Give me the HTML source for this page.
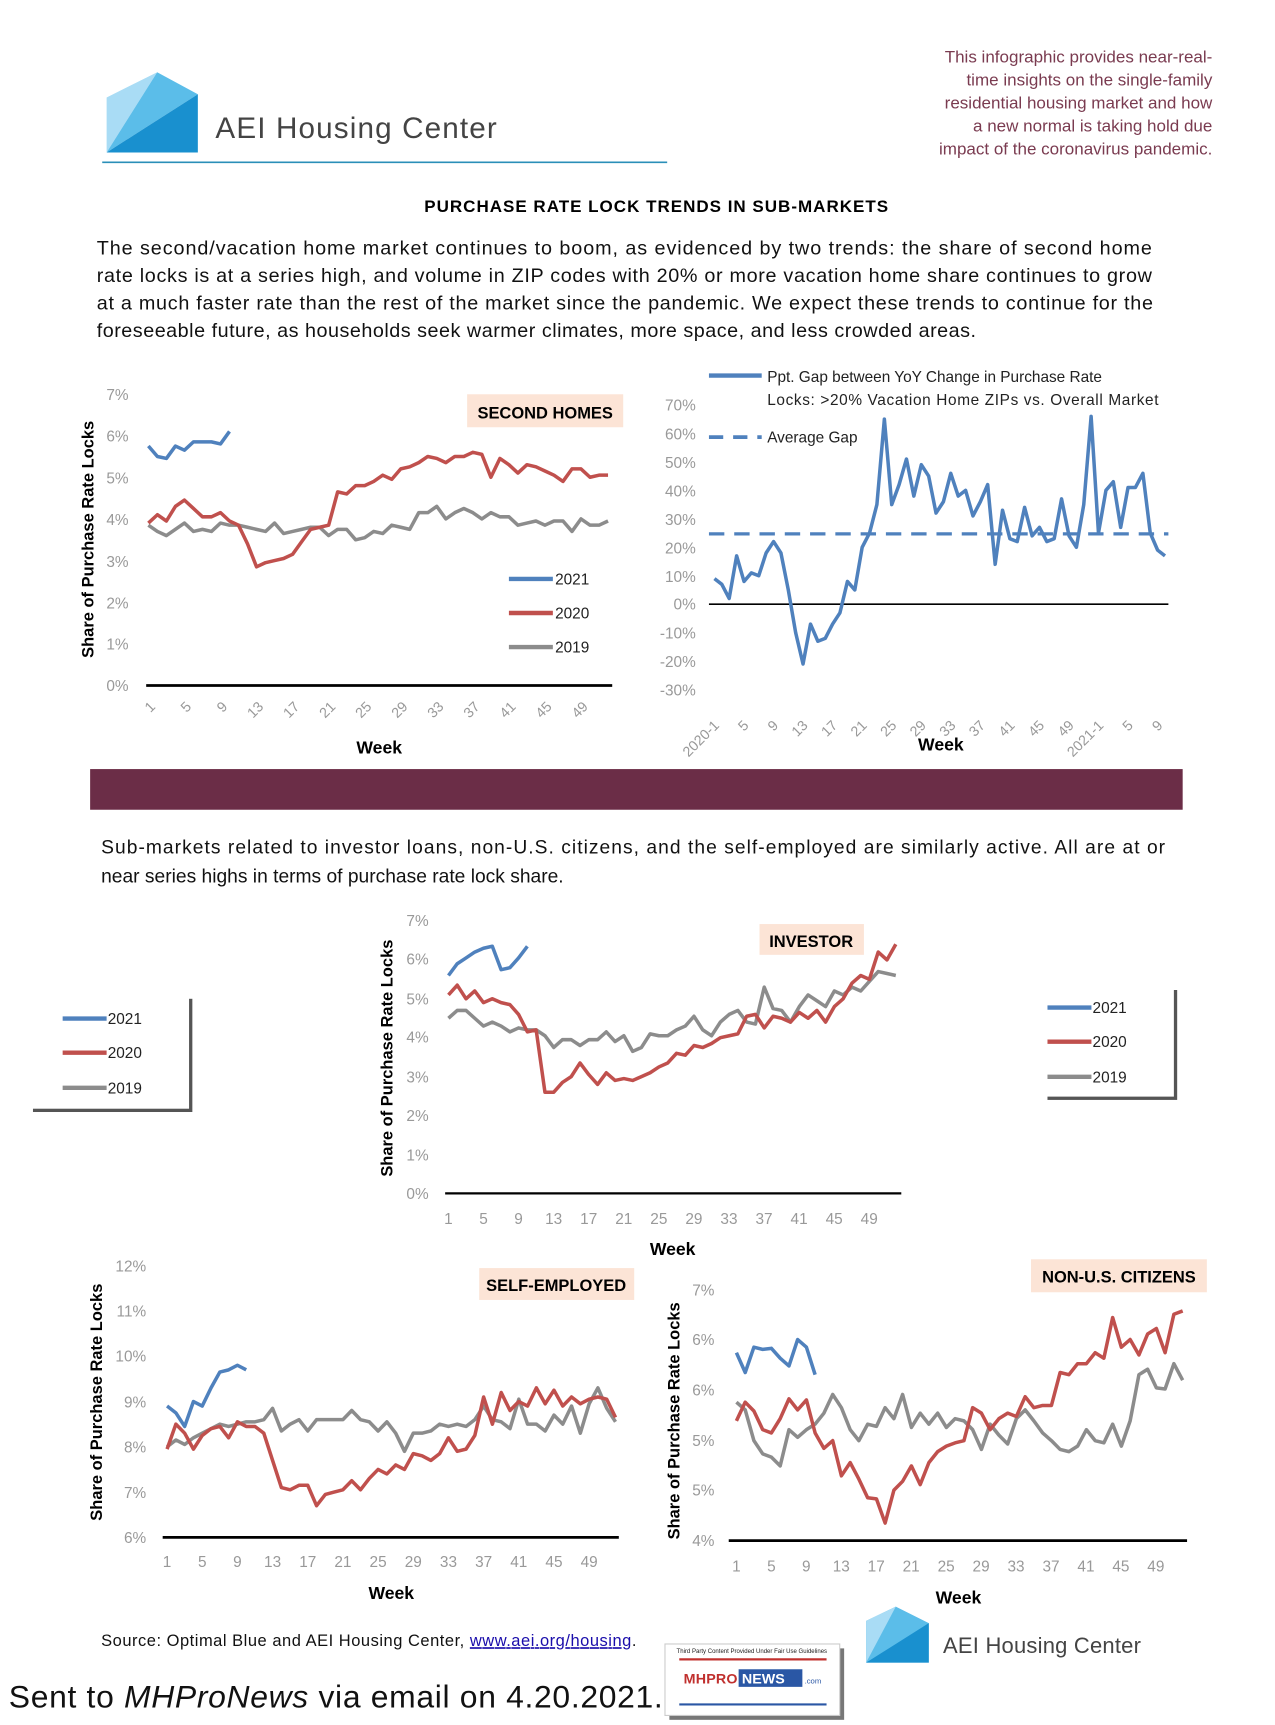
<!DOCTYPE html>
<html><head><meta charset="utf-8"><style>
html,body{margin:0;padding:0;background:#fff}
svg{display:block}
text{font-family:"Liberation Sans",sans-serif}
</style></head><body>
<svg id="s" width="1275" height="1725" viewBox="0 0 1160 1568" xmlns="http://www.w3.org/2000/svg">
<rect width="1160" height="1568" fill="#fff"/>
<polygon points="97,88 143,65 97,138" fill="#a9dcf5"/>
<polygon points="143,65 180,85 97,138" fill="#5bbde9"/>
<polygon points="97,138 180,85 180,138" fill="#1990cf"/>
<text x="196" y="125" font-size="27" fill="#444" textLength="256">AEI Housing Center</text>
<line x1="93" y1="147" x2="607" y2="147" stroke="#2a8fb8" stroke-width="1.5"/>
<g font-size="15.5" fill="#7a3b50" text-anchor="end">
<text x="1103" y="56">This infographic provides near-real-</text>
<text x="1103" y="77">time insights on the single-family</text>
<text x="1103" y="98">residential housing market and how</text>
<text x="1103" y="119">a new normal is taking hold due</text>
<text x="1103" y="140">impact of the coronavirus pandemic.</text>
</g>
<text x="386" y="192" font-size="15.5" font-weight="bold" textLength="422">PURCHASE RATE LOCK TRENDS IN SUB-MARKETS</text>
<g font-size="18" fill="#111">
<text x="88" y="231" textLength="960">The second/vacation home market continues to boom, as evidenced by two trends: the share of second home</text>
<text x="88" y="256" textLength="960">rate locks is at a series high, and volume in ZIP codes with 20% or more vacation home share continues to grow</text>
<text x="88" y="281" textLength="961">at a much faster rate than the rest of the market since the pandemic. We expect these trends to continue for the</text>
<text x="88" y="306" textLength="800">foreseeable future, as households seek warmer climates, more space, and less crowded areas.</text>
</g>

<g font-size="14" fill="#999" text-anchor="end">
<text x="117" y="363">7%</text><text x="117" y="401">6%</text><text x="117" y="439">5%</text><text x="117" y="477">4%</text><text x="117" y="515">3%</text><text x="117" y="553">2%</text><text x="117" y="590">1%</text><text x="117" y="628">0%</text>
</g>
<line x1="133" y1="623" x2="557" y2="623" stroke="#000" stroke-width="2.5"/>
<g id="t1" font-size="13" fill="#999"></g>
<text transform="translate(85,490) rotate(-90)" font-size="15" font-weight="bold" text-anchor="middle">Share of Purchase Rate Locks</text>
<text x="345" y="685" font-size="16" font-weight="bold" text-anchor="middle">Week</text>
<rect x="425" y="358" width="142" height="30" fill="#fce4d6"/>
<text x="496" y="380" font-size="15" font-weight="bold" text-anchor="middle">SECOND HOMES</text>
<g font-size="14" fill="#222">
<line x1="463" y1="526" x2="503" y2="526" stroke="#4f81bd" stroke-width="4"/><text x="505" y="531">2021</text>
<line x1="463" y1="557" x2="503" y2="557" stroke="#c0504d" stroke-width="4"/><text x="505" y="562">2020</text>
<line x1="463" y1="588" x2="503" y2="588" stroke="#8c8c8c" stroke-width="4"/><text x="505" y="593">2019</text>
</g>
<g id="c1"></g>

<g font-size="14" fill="#999" text-anchor="end">
<text x="633" y="373">70%</text><text x="633" y="399">60%</text><text x="633" y="425">50%</text><text x="633" y="451">40%</text><text x="633" y="477">30%</text><text x="633" y="503">20%</text><text x="633" y="529">10%</text><text x="633" y="554">0%</text><text x="633" y="580">-10%</text><text x="633" y="606">-20%</text><text x="633" y="632">-30%</text>
</g>
<line x1="645" y1="549" x2="1063" y2="549" stroke="#000" stroke-width="1.5"/>
<line x1="645" y1="485" x2="1063" y2="485" stroke="#4f81bd" stroke-width="3" stroke-dasharray="14,9"/>
<g id="t2" font-size="13" fill="#999"></g>
<text x="856" y="682" font-size="16" font-weight="bold" text-anchor="middle">Week</text>
<g font-size="14" fill="#222">
<line x1="645" y1="341" x2="693" y2="341" stroke="#4f81bd" stroke-width="4"/>
<text x="698" y="347">Ppt. Gap between YoY Change in Purchase Rate</text>
<text x="698" y="368" textLength="356">Locks: &gt;20% Vacation Home ZIPs vs. Overall Market</text>
<line x1="645" y1="397" x2="693" y2="397" stroke="#4f81bd" stroke-width="3.5" stroke-dasharray="13,9"/>
<text x="698" y="402">Average Gap</text>
</g>
<g id="c2"></g>

<rect x="82" y="699" width="994" height="37" fill="#6b2d47"/>
<g font-size="17.5" fill="#111">
<text x="92" y="776" textLength="968">Sub-markets related to investor loans, non-U.S. citizens, and the self-employed are similarly active. All are at or</text>
<text x="92" y="802">near series highs in terms of purchase rate lock share.</text>
</g>

<g font-size="14" fill="#999" text-anchor="end">
<text x="390" y="842">7%</text><text x="390" y="877">6%</text><text x="390" y="913">5%</text><text x="390" y="948">4%</text><text x="390" y="984">3%</text><text x="390" y="1019">2%</text><text x="390" y="1055">1%</text><text x="390" y="1090">0%</text>
</g>
<line x1="405" y1="1085" x2="820" y2="1085" stroke="#000" stroke-width="2"/>
<g id="t3" font-size="14" fill="#999" text-anchor="middle"></g>
<text transform="translate(357,962) rotate(-90)" font-size="15" font-weight="bold" text-anchor="middle">Share of Purchase Rate Locks</text>
<text x="612" y="1141" font-size="16" font-weight="bold" text-anchor="middle">Week</text>
<rect x="691" y="840" width="95" height="28" fill="#fce4d6"/>
<text x="738" y="861" font-size="15" font-weight="bold" text-anchor="middle">INVESTOR</text>
<g id="c3"></g>
<rect x="30" y="908" width="145" height="103" fill="#555"/>
<rect x="27" y="905" width="145" height="103" fill="#fff"/>
<rect x="953" y="900" width="118" height="100" fill="#555"/>
<rect x="950" y="897" width="118" height="100" fill="#fff"/>
<g font-size="14" fill="#222">
<line x1="57" y1="926" x2="97" y2="926" stroke="#4f81bd" stroke-width="4"/><text x="98" y="931">2021</text>
<line x1="57" y1="957" x2="97" y2="957" stroke="#c0504d" stroke-width="4"/><text x="98" y="962">2020</text>
<line x1="57" y1="989" x2="97" y2="989" stroke="#8c8c8c" stroke-width="4"/><text x="98" y="994">2019</text>
<line x1="953" y1="916" x2="993" y2="916" stroke="#4f81bd" stroke-width="4"/><text x="994" y="921">2021</text>
<line x1="953" y1="947" x2="993" y2="947" stroke="#c0504d" stroke-width="4"/><text x="994" y="952">2020</text>
<line x1="953" y1="979" x2="993" y2="979" stroke="#8c8c8c" stroke-width="4"/><text x="994" y="984">2019</text>
</g>

<g font-size="14" fill="#999" text-anchor="end">
<text x="133" y="1156">12%</text><text x="133" y="1197">11%</text><text x="133" y="1238">10%</text><text x="133" y="1280">9%</text><text x="133" y="1321">8%</text><text x="133" y="1362">7%</text><text x="133" y="1403">6%</text>
</g>
<line x1="148" y1="1398" x2="563" y2="1398" stroke="#000" stroke-width="2.5"/>
<g id="t4" font-size="14" fill="#999" text-anchor="middle"></g>
<text transform="translate(93,1275) rotate(-90)" font-size="15" font-weight="bold" text-anchor="middle">Share of Purchase Rate Locks</text>
<text x="356" y="1454" font-size="16" font-weight="bold" text-anchor="middle">Week</text>
<rect x="436" y="1153" width="141" height="29" fill="#fce4d6"/>
<text x="506" y="1174" font-size="15" font-weight="bold" text-anchor="middle">SELF-EMPLOYED</text>
<g id="c4"></g>

<g font-size="14" fill="#999" text-anchor="end">
<text x="650" y="1178">7%</text><text x="650" y="1223">6%</text><text x="650" y="1269">6%</text><text x="650" y="1315">5%</text><text x="650" y="1360">5%</text><text x="650" y="1406">4%</text>
</g>
<line x1="663" y1="1401" x2="1080" y2="1401" stroke="#000" stroke-width="2.5"/>
<g id="t5" font-size="14" fill="#999" text-anchor="middle"></g>
<text transform="translate(618,1292) rotate(-90)" font-size="15" font-weight="bold" text-anchor="middle">Share of Purchase Rate Locks</text>
<text x="872" y="1458" font-size="16" font-weight="bold" text-anchor="middle">Week</text>
<rect x="938" y="1145" width="160" height="30" fill="#fce4d6"/>
<text x="1018" y="1166" font-size="15" font-weight="bold" text-anchor="middle">NON-U.S. CITIZENS</text>
<g id="c5"></g>

<text x="92" y="1497" font-size="15" fill="#111" textLength="487">Source: Optimal Blue and AEI Housing Center, <tspan fill="#1a0dab" text-decoration="underline">www.aei.org/housing</tspan>.</text>
<text x="8" y="1553" font-size="29" fill="#111" textLength="595">Sent to <tspan font-style="italic">MHProNews</tspan> via email on 4.20.2021.</text>
<rect x="609" y="1499" width="159" height="65" fill="#777"/>
<rect x="605" y="1495" width="159" height="65" fill="#fff" stroke="#ccc"/>
<text x="684" y="1503" font-size="5.5" text-anchor="middle" fill="#222">Third Party Content Provided Under Fair Use Guidelines</text>
<line x1="618" y1="1509" x2="752" y2="1509" stroke="#c0302e" stroke-width="2"/>
<text x="622" y="1531" font-size="13" font-weight="bold" fill="#c0302e" textLength="49">MHPRO</text>
<rect x="672" y="1518" width="58" height="16" fill="#2a57a5"/>
<text x="675" y="1531" font-size="13" font-weight="bold" fill="#fff">NEWS</text>
<text x="732" y="1531" font-size="7" fill="#2a57a5">.com</text>
<line x1="618" y1="1550" x2="752" y2="1550" stroke="#2a57a5" stroke-width="2"/>
<polygon points="788,1474 815,1461 845,1476 845,1512 788,1512" fill="#5bbde9"/>
<polygon points="788,1474 815,1461 788,1512" fill="#a9dcf5"/>
<polygon points="788,1512 845,1476 845,1512" fill="#1990cf"/>
<text x="858" y="1503" font-size="20" fill="#444" textLength="180">AEI Housing Center</text>
</svg>
<script>
var NS="http://www.w3.org/2000/svg",B="#4f81bd",R="#c0504d",G="#8c8c8c";
function pl(id,data,x0,dx,f,col,w,off){var p=[];for(var i=0;i<data.length;i++)p.push((x0+(i+(off||0))*dx).toFixed(1)+","+f(data[i]).toFixed(1));var e=document.createElementNS(NS,"polyline");e.setAttribute("points",p.join(" "));e.setAttribute("fill","none");e.setAttribute("stroke",col);e.setAttribute("stroke-width",w||3.2);e.setAttribute("stroke-linejoin","round");document.getElementById(id).appendChild(e);}
function ticks(id,labels,x0,dx,y,rot){var g=document.getElementById(id);for(var i=0;i<labels.length;i++){var t=document.createElementNS(NS,"text");var x=x0+i*dx;if(rot){t.setAttribute("transform","translate("+x+","+y+") rotate(-45)");t.setAttribute("text-anchor","end");}else{t.setAttribute("x",x);t.setAttribute("y",y);}t.textContent=labels[i];g.appendChild(t);}}
var wk=[];for(var w=1;w<=49;w+=4)wk.push(w);
var f1=function(v){return 623-v*37.9};
ticks("t1",wk,142,32.8,643,true);
pl("c1",[3.85,3.7,3.6,3.75,3.9,3.7,3.75,3.7,3.9,3.85,3.85,3.8,3.75,3.7,3.9,3.65,3.7,3.75,3.8,3.8,3.6,3.75,3.75,3.5,3.55,3.7,3.65,3.85,3.8,3.75,4.15,4.15,4.3,4.0,4.15,4.25,4.15,4.0,4.15,4.05,4.05,3.85,3.9,3.95,3.85,3.95,3.95,3.7,4.0,3.85,3.85,3.95],135,8.2,f1,G);
pl("c1",[3.9,4.1,3.95,4.3,4.45,4.25,4.05,4.05,4.15,3.95,3.85,3.4,2.85,2.95,3.0,3.05,3.15,3.45,3.75,3.8,3.85,4.65,4.6,4.8,4.8,4.9,5.05,4.95,5.2,5.25,5.35,5.5,5.45,5.35,5.5,5.5,5.6,5.55,5.0,5.45,5.3,5.1,5.3,5.25,5.15,5.05,4.9,5.2,5.2,5.0,5.05,5.05],135,8.2,f1,R);
pl("c1",[5.75,5.5,5.45,5.75,5.65,5.85,5.85,5.85,5.8,6.1],135,8.2,f1,B);
var l2=["2020-1"];for(var w=5;w<=49;w+=4)l2.push(w);l2.push("2021-1",5,9);
ticks("t2",l2,655,26.9,660,true);
pl("c2",[9,7,2,17,8,11,10,18,22,18,5,-10,-21,-7,-13,-12,-7,-3,8,5,20,25,35,65,35,42,51,38,49,45,32,36,46,38,40,31,36,42,14,33,23,22,34,24,27,22,23,37,24,20,35,66,25,40,43,27,41,41,46,25,19,17],650,6.72,function(v){return 549-v*2.59},B);
var f3=function(v){return 1085-v*35.4};
ticks("t3",wk,408,31.9,1113,false);
pl("c3",[4.5,4.7,4.7,4.5,4.3,4.4,4.3,4.15,4.25,4.2,4.2,4.05,3.75,3.95,3.95,3.8,3.95,3.95,4.15,3.9,4.05,3.65,3.75,4.1,4.05,4.05,4.2,4.3,4.55,4.2,4.05,4.4,4.6,4.7,4.4,4.35,5.3,4.75,4.7,4.4,4.8,5.1,4.95,4.8,5.2,5.1,5.3,5.2,5.45,5.7,5.65,5.6],408,7.98,f3,G);
pl("c3",[5.1,5.35,5.0,5.2,4.9,5.0,4.9,4.85,4.6,4.15,4.2,2.6,2.6,2.85,3.0,3.35,3.05,2.8,3.1,2.9,2.95,2.9,3.0,3.1,3.25,3.35,3.6,3.55,3.8,3.75,3.85,4.0,4.05,4.1,4.55,4.6,4.25,4.55,4.5,4.4,4.65,4.5,4.7,4.4,4.8,5.0,5.4,5.6,5.5,6.2,6.0,6.4],408,7.98,f3,R);
pl("c3",[5.6,5.9,6.05,6.2,6.3,6.35,5.75,5.8,6.05,6.35],408,7.98,f3,B);
var f4=function(v){return 1398-(v-6)*41.2};
ticks("t4",wk,152,32,1425,false);
pl("c4",[8.0,8.15,8.05,8.2,8.3,8.4,8.5,8.45,8.5,8.55,8.55,8.6,8.85,8.35,8.5,8.6,8.35,8.6,8.6,8.6,8.6,8.8,8.6,8.55,8.35,8.55,8.3,7.9,8.3,8.3,8.35,8.5,8.45,8.5,8.45,8.6,8.9,8.6,8.55,8.4,9.05,8.5,8.5,8.35,8.7,8.5,8.9,8.3,8.95,9.3,8.85,8.55],152,8.0,f4,G);
pl("c4",[7.95,8.5,8.3,7.95,8.25,8.4,8.45,8.2,8.55,8.45,8.45,8.3,7.7,7.1,7.05,7.15,7.15,6.7,6.95,7.0,7.05,7.25,7.05,7.3,7.5,7.4,7.6,7.5,7.85,7.8,7.7,7.85,8.2,7.9,7.95,8.25,9.1,8.5,9.2,8.8,9.0,8.9,9.3,8.95,9.25,8.9,9.1,8.95,9.05,9.1,9.05,8.65],152,8.0,f4,R);
pl("c4",[8.9,8.75,8.45,9.0,8.9,9.3,9.65,9.7,9.8,9.7],152,8.0,f4,B);
var f5=function(v){return v};
ticks("t5",wk,670,31.8,1429,false);
pl("c5",[1275,1282,1310,1322,1325,1333,1300,1307,1300,1295,1285,1268,1280,1300,1310,1295,1297,1280,1290,1268,1298,1285,1295,1285,1298,1290,1292,1300,1318,1295,1305,1313,1290,1282,1292,1303,1310,1318,1320,1315,1300,1310,1312,1295,1315,1292,1250,1245,1262,1263,1240,1255],670,7.96,f5,G);
pl("c5",[1292,1275,1283,1300,1303,1290,1272,1282,1273,1303,1317,1310,1342,1330,1345,1362,1363,1385,1355,1347,1333,1350,1330,1320,1315,1312,1310,1280,1285,1300,1290,1285,1288,1270,1280,1278,1278,1248,1250,1240,1240,1230,1235,1198,1225,1218,1232,1213,1208,1230,1195,1192],670,7.96,f5,R);
pl("c5",[1230,1248,1225,1227,1226,1235,1242,1218,1225,1250],670,7.96,f5,B);
</script>
</body></html>
